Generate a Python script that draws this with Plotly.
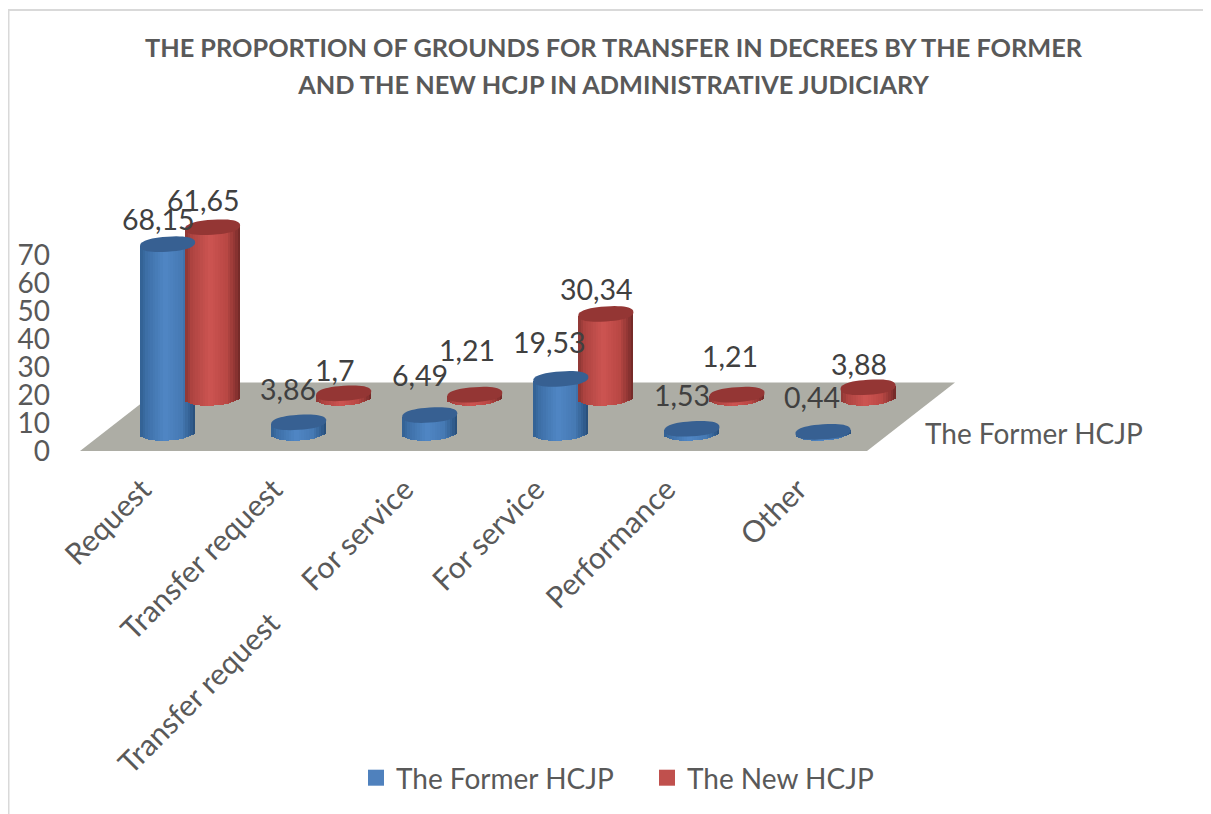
import math
import plotly.graph_objects as go

categories = ["Request", "Transfer request", "Transfer request" + "\u00a0" * 6 + "For service", "For service", "Performance", "Other"]
former_hcjp = [68.15, 3.86, 6.49, 19.53, 1.53, 0.44]
new_hcjp = [61.65, 1.7, 1.21, 30.34, 1.21, 3.88]
y_ticks = [0, 10, 20, 30, 40, 50, 60, 70]
title_lines = ["THE PROPORTION OF GROUNDS FOR TRANSFER IN DECREES BY THE FORMER",
               "AND THE NEW HCJP IN ADMINISTRATIVE JUDICIARY"]

W, H = 1211, 814
PAGE_INSET = 8        # the page draws the figure this far in from its corner
FONT = "Lato"
SCALE = 2.77          # px per unit
BAR_W = 0.42          # in category units
HALF_H = 7.5          # ellipse half height, px
TILT = 1.8            # ellipse tilt, px
CAP_ROUND = 0.85      # below 1 makes the ellipse ends blunter
N_STRIPS = 22
SPACING = 131.1

def px(xp):
    return (xp - PAGE_INSET) / W

def py(yp):
    return 1 - (yp - PAGE_INSET) / H

def lerp_color(stops, t):
    for (a, ca), (b, cb) in zip(stops, stops[1:]):
        if t <= b:
            f = (t - a) / (b - a)
            return "rgb(%d,%d,%d)" % tuple(ca[i] + (cb[i] - ca[i]) * f for i in range(3))
    return "rgb(%d,%d,%d)" % stops[-1][1]

def spow(c):
    return math.copysign(abs(c) ** CAP_ROUND, c)

BLUE_STOPS = [(0, (50, 96, 146)), (0.12, (62, 112, 168)), (0.45, (80, 135, 197)), (0.75, (70, 122, 180)), (0.92, (50, 94, 144)), (1, (40, 76, 118))]
RED_STOPS = [(0, (140, 55, 52)), (0.12, (175, 68, 65)), (0.45, (205, 85, 82)), (0.75, (185, 72, 68)), (0.92, (140, 52, 50)), (1, (110, 40, 38))]

positions = list(range(len(categories)))
fig = go.Figure()
shapes, annotations = [], []

series = [
    ("The New HCJP", new_hcjp, RED_STOPS, "x3", "y3", 398, "#943634", "#C0504D",
     [-9, -9, -8, -9, -7, -9], [27, 23, 45, 25, 39, 23]),
    ("The Former HCJP", former_hcjp, BLUE_STOPS, "x2", "y2", 433, "#376092", "#4F81BD",
     [-9, -11, -10, -11, -10, -11], [25, 33, 40, 37, 34, 35]),
]

for name, values, stops, xa, ya, zero, cap, swatch, dxs, dys in series:
    dw = BAR_W / N_STRIPS
    for k in range(N_STRIPS):
        t = (k + 0.5) / N_STRIPS
        u = 2 * t - 1
        depth = HALF_H * math.sqrt(max(0, 1 - u * u)) - TILT * u
        bottom = -depth / SCALE
        top_adj = TILT * u / SCALE
        over = dw * (1.5 if k < N_STRIPS - 1 else 1.0)
        fig.add_trace(go.Bar(
            x=positions,
            y=[v + top_adj - bottom for v in values],
            base=[bottom] * len(values),
            offset=-BAR_W / 2 + k * dw,
            width=over,
            marker=dict(color=lerp_color(stops, t), line=dict(width=0)),
            xaxis=xa, yaxis=ya, showlegend=False, hoverinfo="skip",
        ))
    for p, v, dx, dy in zip(positions, values, dxs, dys):
        pts = []
        for j in range(48):
            a = 2 * math.pi * j / 48
            xx = p + BAR_W / 2 * spow(math.cos(a))
            yy = v + (HALF_H * spow(math.sin(a)) + TILT * spow(math.cos(a))) / SCALE
            pts.append(f"{xx:.4f},{yy:.4f}")
        shapes.append(dict(type="path", xref=xa, yref=ya, layer="above",
                           path="M" + " L".join(pts) + " Z",
                           fillcolor=cap, line=dict(width=0)))
        annotations.append(dict(x=p, y=v, xref=xa, yref=ya, text=str(v).replace(".", ","),
                                showarrow=False, xshift=dx, yshift=dy, xanchor="center", yanchor="middle",
                                font=dict(family=FONT, size=28.5, color="#404040")))

# legend entries, in reading order
for name, swatch in [("The Former HCJP", "#4F81BD"), ("The New HCJP", "#C0504D")]:
    fig.add_trace(go.Scatter(x=[None], y=[None], mode="markers", name=name,
                             marker=dict(symbol="square", size=16, color=swatch),
                             xaxis="x2", yaxis="y2"))

# floor
shapes.insert(0, dict(type="path", xref="paper", yref="paper", layer="below",
                      path=f"M{px(80)},{py(451)} L{px(867)},{py(451)} L{px(955)},{py(382.5)} L{px(168)},{py(382.5)} Z",
                      fillcolor="#ADADA5", line=dict(width=0)))
# chart frame
shapes.append(dict(type="path", xref="paper", yref="paper", layer="below",
                   path=f"M{px(8.5)},{py(822)} L{px(8.5)},{py(10)} L{px(1219)},{py(10)}",
                   line=dict(color="#D9D9D9", width=2)))

annotations.append(dict(x=px(923), y=py(433), xref="paper", yref="paper", text="The Former HCJP",
                        showarrow=False, xanchor="left", yanchor="middle",
                        font=dict(family=FONT, size=28, color="#595959")))

hidden = dict(visible=False, fixedrange=True, automargin=False)
y_top, y_bot = 150, 455
title_text = "<br>".join(f'<span style="font-size:25.3px">{line}</span>' for line in title_lines)

fig.update_layout(
    width=W, height=H,
    autosize=False,
    margin=dict(l=0, r=0, t=0, b=0),
    paper_bgcolor="white", plot_bgcolor="rgba(0,0,0,0)",
    barmode="overlay",
    bargap=0,
    showlegend=True,
    title=dict(text=title_text,
               x=px(613.5), xanchor="center", y=py(56.5), yanchor="middle", automargin=False,
               font=dict(family=FONT, size=28.5, color="#595959", weight="bold")),
    xaxis=dict(domain=[px(101 - 24), px(887.6 - 24)], range=[-0.5, 5.5], anchor="free", position=py(465),
               automargin=False,
               tickmode="array", tickvals=positions, ticktext=categories, tickangle=-45,
               tickfont=dict(family=FONT, size=30, color="#595959"),
               showgrid=False, showline=False, zeroline=False, ticks=""),
    yaxis=dict(domain=[py(451), py(255)], range=[0, 70], anchor="free", position=px(50), overlaying=None,
               automargin=False,
               tickmode="array", tickvals=y_ticks, tickfont=dict(family=FONT, size=28, color="#595959"),
               showgrid=False, showline=False, zeroline=False, ticks=""),
    xaxis2=dict(domain=[px(102), px(102 + 6 * SPACING)], range=[-0.5, 5.5], anchor="y2", **hidden),
    yaxis2=dict(domain=[py(y_bot), py(y_top)], range=[-(y_bot - 433) / SCALE, (433 - y_top) / SCALE], anchor="x2", **hidden),
    xaxis3=dict(domain=[px(147), px(147 + 6 * SPACING)], range=[-0.5, 5.5], anchor="y3", **hidden),
    yaxis3=dict(domain=[py(y_bot), py(y_top)], range=[-(y_bot - 398) / SCALE, (398 - y_top) / SCALE], anchor="x3", **hidden),
    shapes=shapes,
    annotations=annotations,
    legend=dict(orientation="h", x=px(356), xanchor="left", y=py(778), yanchor="middle",
                font=dict(family=FONT, size=28, color="#595959"),
                itemwidth=30, entrywidth=246, entrywidthmode="pixels",
                traceorder="normal", bgcolor="rgba(0,0,0,0)"),
)
# keep axes x / y alive so the tick labels draw
fig.add_trace(go.Scatter(x=[0], y=[0], mode="markers", marker=dict(opacity=0), showlegend=False, hoverinfo="skip"))

fig.write_html("out.html")
